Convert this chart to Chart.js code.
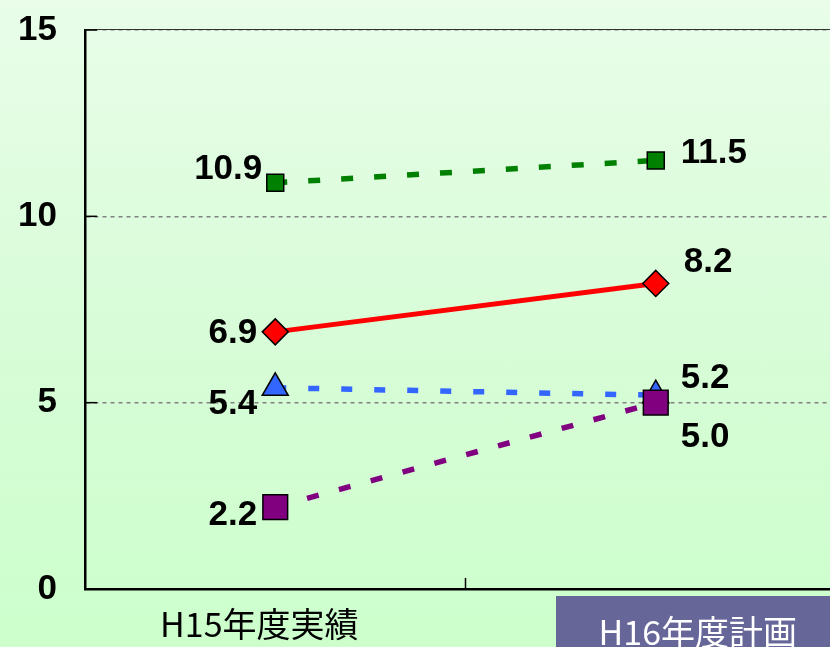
<!DOCTYPE html>
<html>
<head>
<meta charset="utf-8">
<script src="https://cdn.jsdelivr.net/npm/chart.js@4.4.1/dist/chart.umd.min.js"></script>
<style>
  html, body { margin: 0; padding: 0; }
  body { width: 830px; height: 647px; overflow: hidden;
         background: linear-gradient(to bottom, #E9FDE9 0%, #D8FCD8 50%, #CCFFCC 100%); }
  #wrap { width: 830px; height: 647px; overflow: hidden; position: relative; }
  canvas { display: block; }
</style>
</head>
<body>
<div id="wrap"><canvas id="c" width="865" height="647"></canvas></div>
<script>
// ---- data ----
const categories = ['H15年度実績', 'H16年度計画'];
const seriesRed = [6.9, 8.2];
const seriesGreen = [10.9, 11.5];
const seriesPurple = [2.2, 5.0];
const seriesBlue = [5.4, 5.2];
const yTicks = [0, 5, 10, 15];

// ---- label placement (style, not data) ----
const labelStyle = {
  red:    [{dx: -18, dy: 1, align: 'right'}, {dx: 28, dy: -21, align: 'left'}],
  green:  [{dx: -13, dy: -13, align: 'right'}, {dx: 25, dy: -7, align: 'left'}],
  purple: [{dx: -18, dy: 8, align: 'right'}, {dx: 25, dy: 35, align: 'left'}],
  blue:   [{dx: -18, dy: 17, align: 'right'}, {dx: 25, dy: -17, align: 'left'}]
};
const catLabelStyle = [
  {dx: -16, y: 624, color: '#000000', box: null},
  {dx: 42, y: 632, color: '#FFFFFF', box: {x: 556, y: 596, w: 320, h: 60, color: '#666699'}}
];

const dashStyle = [12, 21];

const datasets = [
  { key: 'red', data: seriesRed, borderColor: '#FF0000', backgroundColor: '#FF0000',
    borderWidth: 5, pointStyle: 'rectRot', pointRadius: 13, borderDash: [] },
  { key: 'green', data: seriesGreen, borderColor: '#008000', backgroundColor: '#008000',
    borderWidth: 5.5, pointStyle: 'rect', pointRadius: 12, borderDash: dashStyle },
  { key: 'purple', data: seriesPurple, borderColor: '#800080', backgroundColor: '#800080',
    borderWidth: 5.5, pointStyle: 'rect', pointRadius: 17.5, borderDash: dashStyle },
  { key: 'blue', data: seriesBlue, borderColor: '#3366FF', backgroundColor: '#3366FF',
    borderWidth: 5.5, pointStyle: 'triangle', pointRadius: 15, borderDash: [11, 22] }
].map(d => Object.assign(d, {
  pointBackgroundColor: d.backgroundColor,
  pointBorderColor: '#000000',
  pointBorderWidth: 1.5,
  pointHoverRadius: d.pointRadius,
  tension: 0,
  fill: false
}));

const overlay = {
  id: 'overlay',
  afterDraw(chart) {
    const ctx = chart.ctx;
    const xs = chart.scales.x, ys = chart.scales.y;
    const area = chart.chartArea;
    ctx.save();
    // top solid line
    ctx.strokeStyle = '#333333';
    ctx.lineWidth = 1;
    ctx.beginPath();
    ctx.moveTo(area.left, area.top - 0.5);
    ctx.lineTo(area.right, area.top - 0.5);
    ctx.stroke();
    // inward y ticks
    ctx.strokeStyle = '#000000';
    ctx.lineWidth = 1.5;
    yTicks.forEach(v => {
      const y = ys.getPixelForValue(v);
      ctx.beginPath();
      ctx.moveTo(area.left, y);
      ctx.lineTo(area.left + 12, y);
      ctx.stroke();
    });
    // category boundary tick
    const xb = (xs.getPixelForValue(0) + xs.getPixelForValue(1)) / 2;
    ctx.beginPath();
    ctx.moveTo(xb, area.bottom);
    ctx.lineTo(xb, area.bottom - 11);
    ctx.stroke();

    // data labels
    ctx.font = 'bold 35px "Liberation Sans", Arial, sans-serif';
    ctx.fillStyle = '#000000';
    ctx.textBaseline = 'middle';
    chart.data.datasets.forEach((ds, di) => {
      const meta = chart.getDatasetMeta(di);
      meta.data.forEach((pt, i) => {
        const st = labelStyle[ds.key][i];
        ctx.textAlign = st.align;
        ctx.fillText(ds.data[i].toFixed(1), pt.x + st.dx, pt.y + st.dy);
      });
    });

    // category labels
    ctx.font = '34px "Noto Sans CJK JP", sans-serif';
    ctx.textAlign = 'center';
    ctx.textBaseline = 'middle';
    categories.forEach((c, i) => {
      const st = catLabelStyle[i];
      if (st.box) {
        ctx.fillStyle = st.box.color;
        ctx.fillRect(st.box.x, st.box.y, st.box.w, st.box.h);
      }
      ctx.fillStyle = st.color;
      ctx.fillText(c, xs.getPixelForValue(i) + st.dx, st.y);
    });
    ctx.restore();
  }
};

new Chart(document.getElementById('c'), {
  type: 'line',
  data: { labels: categories, datasets },
  options: {
    responsive: false,
    animation: false,
    events: [],
    layout: { padding: { top: 30, right: 0, left: 0, bottom: 0 } },
    plugins: { legend: { display: false }, tooltip: { enabled: false } },
    scales: {
      x: {
        type: 'category',
        offset: true,
        grid: { display: false, drawTicks: false },
        border: { display: true, color: '#000000', width: 2.5 },
        ticks: { display: false },
        afterFit(s) { s.height = 58; }
      },
      y: {
        min: 0, max: 15,
        afterBuildTicks(s) { s.ticks = yTicks.map(v => ({ value: v })); },
        grid: { color: '#808080', lineWidth: 1.5, drawTicks: false, tickBorderDash: [] },
        border: { display: true, color: '#000000', width: 2.5, dash: [4, 4] },
        ticks: {
          padding: 28,
          color: '#000000',
          font: { family: '"Liberation Sans", Arial, sans-serif', size: 35, weight: 'bold' }
        },
        afterFit(s) { s.width = 85; s.paddingTop = 0; s.paddingBottom = 0; }
      }
    }
  },
  plugins: [overlay]
});
</script>
</body>
</html>
